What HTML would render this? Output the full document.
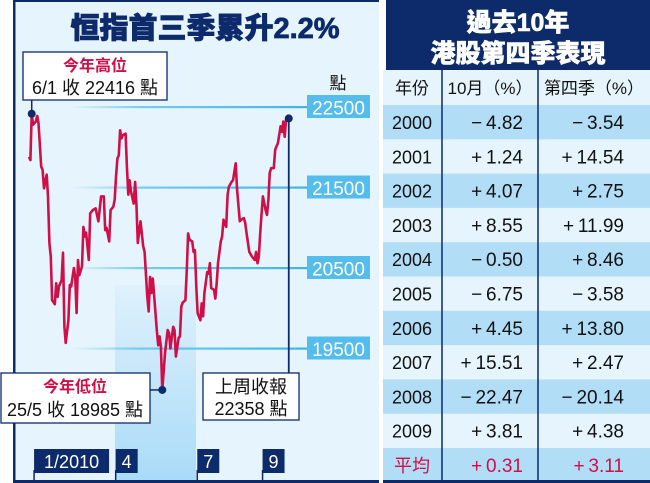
<!DOCTYPE html>
<html><head><meta charset="utf-8"><style>
html,body{margin:0;padding:0;background:#fff;}
svg{display:block;font-family:"Liberation Sans","Noto Sans CJK TC",sans-serif;}
</style></head><body>
<svg id="chart" width="650" height="483" viewBox="0 0 650 483" xmlns="http://www.w3.org/2000/svg">
<defs>
<linearGradient id="band" x1="0" y1="0" x2="0" y2="1"><stop offset="0" stop-color="#dff1fc"/><stop offset="1" stop-color="#a9dbf8"/></linearGradient>
<linearGradient id="gridg" x1="0" y1="0" x2="1" y2="0"><stop offset="0" stop-color="#5bc0ec" stop-opacity="0"/><stop offset="0.3" stop-color="#5bc0ec" stop-opacity="0.8"/><stop offset="1" stop-color="#3fb2e8"/></linearGradient>
</defs>
<rect x="0" y="0" width="650" height="483" fill="#fff"/>
<rect x="13" y="0" width="366" height="483" fill="#e6f5fd"/>
<rect x="13" y="0" width="2.5" height="483" fill="#0d2a6b"/>
<rect x="13" y="0" width="366" height="2" fill="#0d2a6b"/>
<rect x="115" y="285" width="81" height="196" fill="url(#band)"/>
<text x="205" y="38" text-anchor="middle" font-size="29" font-weight="900" fill="#0d2a6b" stroke="#0d2a6b" stroke-width="0.8" font-family="'Liberation Sans','Noto Sans CJK TC',sans-serif">恒指首三季累升2.2%</text>
<g id="grid"></g>
<g id="series"></g>
<g id="annot"></g>
<g id="xaxis"></g>
<rect x="13" y="480" width="637" height="3" fill="#0d2a6b"/>
<g id="table"></g>
</svg>
<script>
const days = [0,1,2,3,5,6,7,9,10,11,13,14,15,16,17,19,20,21,22,24,25,26,27,29,30,31,33,34,35,36,37,39,40,41,42,44,45,47,49,51,53,55,56,57,59,60,62,63,64,65,66,67,68,69,71,72,73,74,75,77,78,79,80,82,84,85,87,88,89,90,91,93,94,95,96,97,98,100,102,103,104,106,107,108,110,111,112,113,115,116,117,118,120,121,122,123,124,126,127,128,129,131,132,133,134,136,137,138,139,141,142,143,145,146,147,149,150,152,153,155,156,158,159,160,162,164,166,167,168,169,170,171,172,174,175,176,177,178,180,181,182,183,185,186,187,188,189,191];
const hsiValues = [21880,21840,22416,22280,22320,22390,22300,21760,21720,21490,21660,21390,20810,20640,20100,20050,20310,20140,20270,20350,20690,19770,19570,19850,20290,20270,20500,20390,19940,20600,20410,20520,21010,20890,20940,20600,21180,21220,21240,21080,21390,21390,20970,21000,20830,21220,21260,21350,21630,21860,21900,22210,22110,22150,22170,21760,21410,21590,21450,21300,21570,21300,20810,21080,20770,20700,20140,19960,20390,20190,20370,19940,19730,19540,19650,19520,18985,19440,19730,19690,19500,19770,19730,19400,19630,19650,20020,20070,20100,20480,20930,20850,20830,20700,20720,20270,19940,19850,20060,19900,20190,20450,20430,20560,20250,20230,20120,20310,20560,20830,20890,21100,21010,21410,21510,21570,21590,21800,21470,21080,21100,21120,21060,20930,20700,20640,20600,20700,20560,20640,20930,21180,21390,21220,21160,21350,21680,21740,21740,21970,22010,22050,22260,22190,22320,22130,22340,22358];
const yTicks = [22500,21500,20500,19500];
const xTickLabels = ["1/2010","4","7","9"];
const xTickDays = [3,63,123,171];
const years = ["2000","2001","2002","2003","2004","2005","2006","2007","2008","2009"];
const octPct = ["−4.82","+1.24","+4.07","+8.55","−0.50","−6.75","+4.45","+15.51","−22.47","+3.81"];
const q4Pct = ["−3.54","+14.54","+2.75","+11.99","+8.46","−3.58","+13.80","+2.47","−20.14","+4.38"];
const avgOct = "+0.31", avgQ4 = "+3.11";

const NS="http://www.w3.org/2000/svg";
const xS = d => 29 + d*1.36;
const yS = v => 107 + (22500 - v)*0.0805;
const fmt = s => s.charAt(0) + "\u2009" + s.slice(1);
function mk(tag, attrs, parent, text){const e=document.createElementNS(NS,tag);for(const k in attrs)e.setAttribute(k,attrs[k]);if(text!==undefined)e.textContent=text;parent.appendChild(e);return e;}
const grid=document.getElementById('grid');
yTicks.forEach(t=>{
  const y=yS(t);
  const l=mk('rect',{x:70,y:y-1,width:240,height:2.2,fill:'url(#gridg)'},grid);
  
  
  const b=mk('rect',{x:307,y:y-12,width:63,height:23,fill:'#55bdec'},grid);
  
  
  const tx=mk('text',{x:338.5,y:y+7.5,'text-anchor':'middle','font-size':19,fill:'#fff'},grid,String(t));
  
  
});
const unit=mk('text',{x:338,y:89,'text-anchor':'middle','font-size':17,fill:'#111'},grid,'點');



const ser=document.getElementById('series');
const pts=days.map((d,i)=>xS(d).toFixed(1)+','+yS(hsiValues[i]).toFixed(1)).join(' ');
const pl=mk('polyline',{points:pts,fill:'none',stroke:'#cf1048','stroke-width':2.6,'stroke-linejoin':'round'},ser);



const an=document.getElementById('annot');
let hi=0,lo=0;hsiValues.forEach((v,i)=>{if(v>hsiValues[hi])hi=i;if(v<hsiValues[lo])lo=i;});
const last=hsiValues.length-1;
const hx=xS(days[hi]),hy=yS(hsiValues[hi]),lx=xS(days[lo]),ly=yS(hsiValues[lo]),ex=xS(days[last]),ey=yS(hsiValues[last]);
let e;
e=mk('line',{x1:hx,y1:100,x2:hx,y2:hy,stroke:'#0d2a6b','stroke-width':1.5},an);
 
e=mk('line',{x1:150,y1:ly,x2:lx,y2:ly,stroke:'#0d2a6b','stroke-width':1.5},an);
 
e=mk('line',{x1:ex,y1:ey,x2:ex,y2:373,stroke:'#0d2a6b','stroke-width':1.8},an);
 
[[hx,hy,'high-point-marker'],[lx,ly,'low-point-marker'],[ex,ey,'last-point-marker']].forEach(p=>{
  const c=mk('circle',{cx:p[0],cy:p[1],r:4,fill:'#0d2a6b'},an);
  
  
});
function box(x,y,w,h,name){const r=mk('rect',{x:x,y:y,width:w,height:h,fill:'#fff',stroke:'#0d2a6b','stroke-width':1.3},an);}
box(23,52,144,48,'high-callout');
e=mk('text',{x:95,y:71,'text-anchor':'middle','font-size':16,'font-weight':'bold',fill:'#cf1048'},an,'今年高位');
 
e=mk('text',{x:95,y:94,'text-anchor':'middle','font-size':18,fill:'#111'},an,'6/1 收 22416 點');
 
box(1,373,149,50,'low-callout');
e=mk('text',{x:75,y:392,'text-anchor':'middle','font-size':16,'font-weight':'bold',fill:'#cf1048'},an,'今年低位');
 
e=mk('text',{x:75,y:416,'text-anchor':'middle','font-size':18,fill:'#111'},an,'25/5 收 18985 點');
 
box(203,373,96,47,'last-close-callout');
e=mk('text',{x:251,y:393,'text-anchor':'middle','font-size':18,fill:'#111'},an,'上周收報');
 
e=mk('text',{x:251,y:415,'text-anchor':'middle','font-size':18,fill:'#111'},an,'22358 點');
 

const xa=document.getElementById('xaxis');
xTickLabels.forEach((lab,i)=>{
  const x=xS(xTickDays[i])+1;
  const w=lab.length>2?75:22;
  const t=mk('line',{x1:x,y1:470,x2:x,y2:481,stroke:'#0d2a6b','stroke-width':1.5},xa);
  
  
  const r=mk('rect',{x:x,y:449,width:w,height:24,fill:'#0d2a6b'},xa);
  
  
  const tx=mk('text',{x:x+w/2,y:468,'text-anchor':'middle','font-size':18,fill:'#fff'},xa,lab);
  
  
});

const tb=document.getElementById('table');
e=mk('rect',{x:379,y:0,width:7,height:483,fill:'#fff'},tb);
 
e=mk('rect',{x:386,y:0,width:264,height:70,fill:'#0d2a6b'},tb);
 
e=mk('text',{x:518,y:31,'text-anchor':'middle','font-size':25,'font-weight':'900',fill:'#fff',stroke:'#fff','stroke-width':0.6},tb,'過去10年');
 
e=mk('text',{x:518,y:62,'text-anchor':'middle','font-size':25,'font-weight':'900',fill:'#fff',stroke:'#fff','stroke-width':0.6},tb,'港股第四季表現');
 
e=mk('rect',{x:383,y:70,width:267,height:35,fill:'#e6f5fd'},tb);
 
[['年份',412,'middle'],['10月（%）',490,'middle'],['第四季（%）',594,'middle']].forEach(h=>{
  const t=mk('text',{x:h[1],y:94,'text-anchor':h[2],'font-size':17,fill:'#111'},tb,h[0]);
  
  
});
const rows=years.map((y,i)=>[y,octPct[i],q4Pct[i],false]).concat([['平均',avgOct,avgQ4,true]]);
const rh=34.3;
rows.forEach((r,i)=>{
  const y=105+i*rh;
  const bg=mk('rect',{x:383,y:y,width:267,height:rh+0.5,fill:i%2===0?'#b1ddf7':'#e6f5fd'},tb);
  
  
  const col=r[3]?'#cf1048':'#111';
  const a=mk('text',{x:412,y:y+24,'text-anchor':'middle','font-size':18,fill:col},tb,r[0]);
  
  
  const b=mk('text',{x:523,y:y+24,'text-anchor':'end','font-size':19,fill:col},tb,fmt(r[1]));
  
  
  const c=mk('text',{x:624,y:y+24,'text-anchor':'end','font-size':19,fill:col},tb,fmt(r[2]));
  
  
});
[442,538].forEach(x=>{
  const l=mk('rect',{x:x-0.75,y:70,width:1.5,height:413,fill:'#0d2a6b'},tb);
  
  
});
e=mk('rect',{x:383,y:480,width:267,height:3,fill:'#0d2a6b'},tb);
 
</script>
</body></html>
